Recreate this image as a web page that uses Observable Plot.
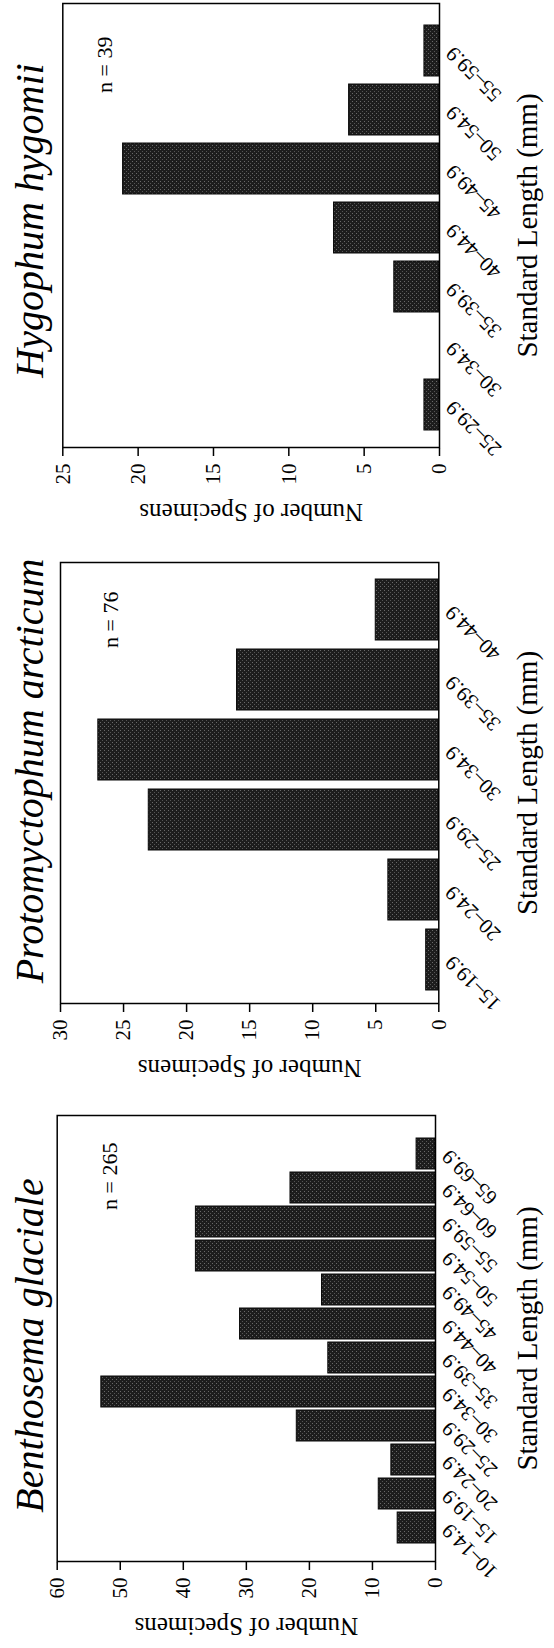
<!DOCTYPE html>
<html>
<head>
<meta charset="utf-8">
<script src="https://cdn.jsdelivr.net/npm/d3@7"></script>
<script src="https://cdn.jsdelivr.net/npm/@observablehq/plot@0.6"></script>
<style>
  html, body { margin: 0; padding: 0; background: #fff; overflow: hidden; width: 554px; height: 1648px; }
  #page { position: absolute; left: 0; top: 0; width: 1648px; height: 554px; background: #fff;
          transform-origin: 0 0; transform: translateY(1648px) rotate(-90deg); }
  #page > svg { position: absolute; top: 0; }
</style>
</head>
<body>
<div id="page"></div>
<script>
// ---- data ----
const titles = ["Benthosema glaciale", "Protomyctophum arcticum", "Hygophum hygomii"];
const nLabels = ["n = 265", "n = 76", "n = 39"];

const binsBG = ["10–14.9", "15–19.9", "20–24.9", "25–29.9", "30–34.9", "35–39.9",
                "40–44.9", "45–49.9", "50–54.9", "55–59.9", "60–64.9", "65–69.9"];
const countsBG = [6, 9, 7, 22, 53, 17, 31, 18, 38, 38, 23, 3];

const binsPA = ["15–19.9", "20–24.9", "25–29.9", "30–34.9", "35–39.9", "40–44.9"];
const countsPA = [1, 4, 23, 27, 16, 5];

const binsHH = ["25–29.9", "30–34.9", "35–39.9", "40–44.9", "45–49.9", "50–54.9", "55–59.9"];
const countsHH = [1, 0, 3, 7, 21, 6, 1];

const yTicksBG = [0, 10, 20, 30, 40, 50, 60];
const yTicksPA = [0, 5, 10, 15, 20, 25, 30];
const yTicksHH = [0, 5, 10, 15, 20, 25];

const xLabel = "Standard Length (mm)";
const yLabel = "Number of Specimens";

// ---- layout (landscape page, rotated afterwards) ----
const H = 554;
const panels = [
  {id: "bg", title: titles[0], n: nLabels[0], bins: binsBG, counts: countsBG, yTicks: yTicksBG,
   left: 0, width: 565, ml: 86, mr: 33, mt: 56.7, mb: H - 435, insetL: 16, insetR: 20, pad: 0.1,
   tdx: -7, ndx: -27, ndy: 53},
  {id: "pa", title: titles[1], n: nLabels[1], bins: binsPA, counts: countsPA, yTicks: yTicksPA,
   left: 565, width: 545, ml: 79, mr: 25, mt: 60, mb: H - 438.3, insetL: 14, insetR: 16, pad: 0.13,
   tdx: 12, ndx: -29, ndy: 50},
  {id: "hh", title: titles[2], n: nLabels[2], bins: binsHH, counts: countsHH, yTicks: yTicksHH,
   left: 1110, width: 538, ml: 90, mr: 4, mt: 62.3, mb: H - 439, insetL: 15, insetR: 18, pad: 0.13,
   tdx: 5, ndx: -33, ndy: 42}
];

const page = document.getElementById("page");
const serif = '"Liberation Serif", "Times New Roman", Times, serif';

for (const p of panels) {
  const data = p.bins.map((b, i) => ({bin: b, count: p.counts[i]}));
  const yMax = p.yTicks[p.yTicks.length - 1];
  const frameBottom = H - p.mb;
  const patId = "tex-" + p.id;
  const chart = Plot.plot({
    width: p.width,
    height: H,
    marginLeft: p.ml,
    marginRight: p.mr,
    marginTop: p.mt,
    marginBottom: p.mb,
    style: {fontFamily: serif, background: "white", color: "black", overflow: "visible"},
    x: {type: "band", domain: p.bins, paddingInner: p.pad, paddingOuter: 0,
        insetLeft: p.insetL, insetRight: p.insetR},
    y: {domain: [0, yMax]},
    marks: [
      Plot.barY(data, {x: "bin", y: "count", fill: `url(#${patId})`, stroke: "#0a0a0a", strokeWidth: 1}),
      Plot.frame({stroke: "black", strokeWidth: 1.5}),
      Plot.axisY({ticks: p.yTicks, tickSize: 8, tickPadding: 8, fontSize: 21,
                  strokeWidth: 1.5, label: null, tickFormat: d => String(d)}),
      Plot.axisX({tickSize: 0, tickPadding: 10, tickRotate: -45, fontSize: 21, label: null}),
      Plot.text([yLabel], {frameAnchor: "left", rotate: -90, dx: -56, textAnchor: "middle",
                           lineAnchor: "bottom", fontSize: 25}),
      Plot.text([xLabel], {frameAnchor: "bottom", dy: 536 - frameBottom, textAnchor: "middle",
                           lineAnchor: "bottom", fontSize: 29}),
      Plot.text([p.title], {frameAnchor: "top", dx: p.tdx, dy: 42 - p.mt, textAnchor: "middle",
                            lineAnchor: "bottom", fontSize: 40, fontStyle: "italic"}),
      Plot.text([p.n], {frameAnchor: "top-right", dx: p.ndx, dy: p.ndy, textAnchor: "end",
                        lineAnchor: "middle", fontSize: 22})
    ]
  });
  // halftone-like texture for the bars
  const ns = "http://www.w3.org/2000/svg";
  const defs = document.createElementNS(ns, "defs");
  defs.innerHTML = `<pattern id="${patId}" width="4" height="4" patternUnits="userSpaceOnUse">
      <rect width="4" height="4" fill="#1d1d1d"></rect>
      <rect x="0" y="0" width="1" height="1" fill="#6a6a6a"></rect>
      <rect x="2" y="2" width="1" height="1" fill="#555"></rect>
    </pattern>`;
  chart.insertBefore(defs, chart.firstChild);
  chart.style.left = p.left + "px";
  page.appendChild(chart);
}
</script>
</body>
</html>
